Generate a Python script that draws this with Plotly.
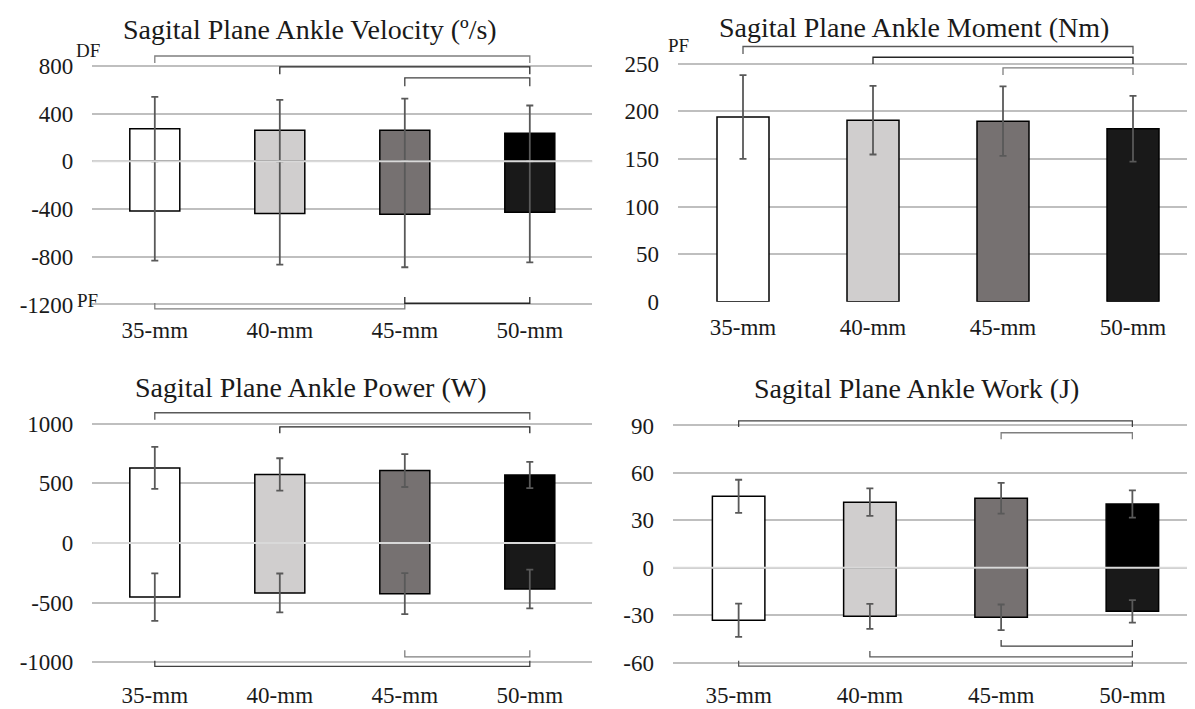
import plotly.graph_objects as go

categories = ["35-mm", "40-mm", "45-mm", "50-mm"]

# Velocity (deg/s): DF (positive) and PF (negative) peaks with SD
vel_pos = [274, 260, 260, 236]
vel_pos_sd = [266, 255, 266, 232]
vel_neg = [-416, -438, -444, -427]
vel_neg_sd = [417, 428, 444, 420]
vel_ticks = [-1200, -800, -400, 0, 400, 800]
vel_ticktext = ["-1200", "-800", "-400", "0", "400", "800"]

# Moment (Nm)
mom_pos = [194, 190.6, 189.6, 181.7]
mom_pos_sd = [44, 36, 36.5, 34.5]
mom_ticks = [0, 50, 100, 150, 200, 250]
mom_ticktext = ["0", "50", "100", "150", "200", "250"]

# Power (W)
pow_pos = [630, 575, 608, 570]
pow_pos_sd = [176, 136, 138, 110]
pow_neg = [-454, -419, -425, -386]
pow_neg_sd = [199, 163, 172, 163]
pow_ticks = [-1000, -500, 0, 500, 1000]
pow_ticktext = ["-1000", "-500", "0", "500", "1000"]

# Work (J)
work_pos = [45.2, 41.5, 44.0, 40.4]
work_pos_sd = [10.5, 8.7, 9.7, 8.6]
work_neg = [-33.2, -30.7, -31.3, -27.5]
work_neg_sd = [10.5, 7.9, 8.1, 7.1]
work_ticks = [-60, -30, 0, 30, 60, 90]
work_ticktext = ["-60", "-30", "0", "30", "60", "90"]

# Significance brackets: (from index, to index, bar height, leg end, color)
vel_brackets = [(0, 3, 883, 825, "#7f7f7f"), (1, 3, 792, 731, "#262626"),
                (2, 3, 699, 630, "#404040"), (0, 2, -1237, -1188, "#7f7f7f"),
                (2, 3, -1190, -1138, "#262626")]
mom_brackets = [(0, 3, 268, 260, "#595959"), (1, 3, 256.7, 249.5, "#262626"),
                (2, 3, 245.6, 238, "#7f7f7f")]
pow_brackets = [(0, 3, 1093, 1035, "#595959"), (1, 3, 975, 920, "#262626"),
                (0, 3, -1035, -989, "#404040"), (2, 3, -955, -900, "#7f7f7f")]
work_brackets = [(0, 3, 92.9, 89, "#404040"), (2, 3, 85.4, 81.3, "#7f7f7f"),
                 (2, 3, -49.5, -45.7, "#404040"), (1, 3, -56.3, -52.6, "#595959"),
                 (0, 3, -62.2, -58.8, "#595959")]

titles = ["Sagital Plane Ankle Velocity (º/s)", "Sagital Plane Ankle Moment (Nm)",
          "Sagital Plane Ankle Power (W)", "Sagital Plane Ankle Work (J)"]

pos_colors = ["#ffffff", "#d0cece", "#767171", "#000000"]
neg_colors = ["#ffffff", "#d0cece", "#767171", "#191919"]

W, H = 1195, 709
FONT = "Liberation Serif, Times New Roman, serif"

fig = go.Figure()

def add_bars(ax, vals, sds, colors, minus=None):
    err = dict(type="data", array=sds, symmetric=True, color="#595959",
               thickness=1.8, width=3.5)
    if minus is not None:
        err = dict(type="data", array=sds, arrayminus=minus, symmetric=False,
                   color="#595959", thickness=1.8, width=3.5)
    fig.add_trace(go.Bar(
        x=categories, y=vals, xaxis="x" + ax, yaxis="y" + ax,
        marker=dict(color=colors, line=dict(color="#000000", width=1.5)),
        error_y=err, showlegend=False, hoverinfo="skip"))

def add_brackets(ax, brackets):
    for a, b, h, leg, col in brackets:
        fig.add_trace(go.Scatter(
            x=[categories[a], categories[a], categories[b], categories[b]],
            y=[leg, h, h, leg], mode="lines", xaxis="x" + ax, yaxis="y" + ax,
            line=dict(color=col, width=1.3), showlegend=False, hoverinfo="skip"))

# velocity: error line runs continuously from the DF tip down to the PF tip
add_bars("", vel_pos, vel_pos_sd, pos_colors, minus=vel_pos)
fig.add_trace(go.Bar(
    x=categories, y=vel_neg, xaxis="x", yaxis="y",
    marker=dict(color=neg_colors, line=dict(color="#000000", width=1.5)),
    error_y=dict(type="data", array=[-v for v in vel_neg], arrayminus=vel_neg_sd,
                 symmetric=False, color="#595959", thickness=1.8, width=3.5),
    showlegend=False, hoverinfo="skip"))
add_bars("2", mom_pos, mom_pos_sd, neg_colors)
add_bars("3", pow_pos, pow_pos_sd, pos_colors)
add_bars("3", pow_neg, pow_neg_sd, neg_colors)
add_bars("4", work_pos, work_pos_sd, pos_colors)
add_bars("4", work_neg, work_neg_sd, neg_colors)

add_brackets("", vel_brackets)
add_brackets("2", mom_brackets)
add_brackets("3", pow_brackets)
add_brackets("4", work_brackets)

def px_x(p):
    return p / W

def px_y(p):
    return 1 - p / H

tick_font = dict(family=FONT, size=23, color="#1a1a1a")

def xax(x0, x1, anchor, standoff):
    return dict(domain=[px_x(x0), px_x(x1)], anchor=anchor, type="category",
                categoryorder="array", categoryarray=categories,
                showgrid=False, showline=False, zeroline=False, ticks="",
                tickfont=dict(tick_font), ticklabelstandoff=standoff, fixedrange=True)

def yax(top, bottom, rng, tv, tt, anchor):
    return dict(domain=[px_y(bottom), px_y(top)], anchor=anchor, range=rng,
                tickmode="array", tickvals=tv, ticktext=tt,
                showgrid=True, gridcolor="#bfbfbf",
                gridwidth=2, zeroline=False, showline=False, ticks="",
                tickfont=dict(tick_font), ticklabelstandoff=18, fixedrange=True)

fig.update_layout(
    width=W, height=H, margin=dict(l=0, r=0, t=0, b=0),
    paper_bgcolor="white", plot_bgcolor="white",
    barmode="relative", bargap=0.6,
    font=dict(family=FONT, color="#1a1a1a"),
    xaxis=xax(84.3, 584.3, "y", 0),
    yaxis=yax(46.85, 311.7, [-1280, 900], vel_ticks, vel_ticktext, "x"),
    xaxis2=xax(670, 1190, "y2", 9),
    yaxis2=yax(32.4, 299.3, [0, 275], mom_ticks, mom_ticktext, "x2"),
    xaxis3=xax(84.3, 584.3, "y3", 7),
    yaxis3=yax(407.8, 676.1, [-1080, 1130], pow_ticks, pow_ticktext, "x3"),
    xaxis4=xax(665, 1190, "y4", 7),
    yaxis4=yax(412.4, 676.6, [-66, 98], work_ticks, work_ticktext, "x4"),
)

# light zero line drawn over the bars
for ax in ["", "3", "4"]:
    fig.add_shape(type="line", xref="x" + ax + " domain",
                  yref="y" + ax, x0=0, x1=1, y0=0, y1=0, layer="above",
                  line=dict(color="#d9d9d9", width=2))

title_pos = [(302, 22), (906, 20), (303, 387), (908, 388)]
for t, (cx, cy) in zip(titles, title_pos):
    fig.add_annotation(text=t, x=px_x(cx), y=px_y(cy), xref="paper", yref="paper",
                       showarrow=False, xanchor="center", yanchor="middle",
                       font=dict(family=FONT, size=28, color="#1a1a1a"))

labels = [("DF", 66, 43), ("PF", 66.7, 298), ("PF", 658, 38.3)]
for t, lx, ly in labels:
    fig.add_annotation(text=t, x=px_x(lx), y=px_y(ly), xref="paper", yref="paper",
                       showarrow=False, xanchor="left", yanchor="middle",
                       font=dict(family=FONT, size=19, color="#1a1a1a"))

fig.write_html("out.html")
